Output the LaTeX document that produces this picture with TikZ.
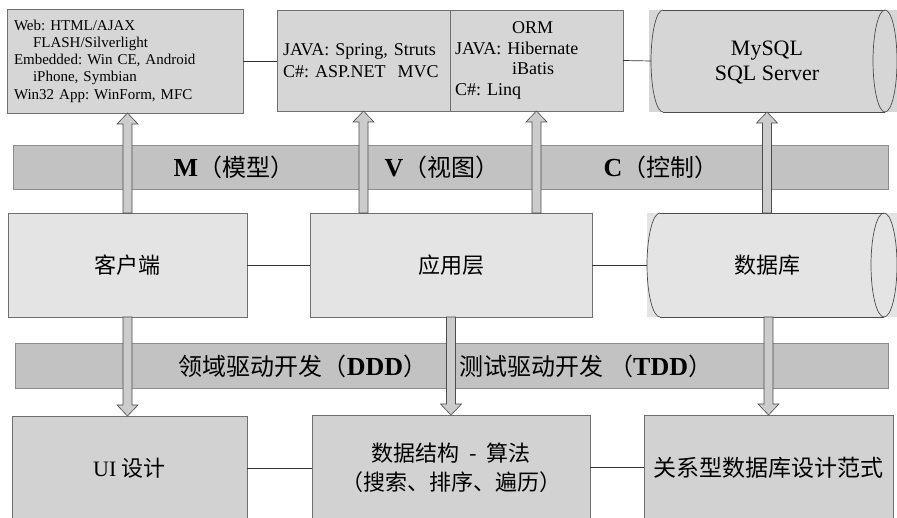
\documentclass[tikz,border=0pt]{standalone}
\usepackage{fontspec}
\setmainfont{Liberation Serif}
\newfontfamily\cjk{Noto Sans CJK SC}
\newcommand\zh[1]{{\cjk #1}}
\frenchspacing
\usetikzlibrary{calc}
\definecolor{topfill}{HTML}{D6D6D6}
\definecolor{bandfill}{HTML}{C2C2C2}
\definecolor{midfill}{HTML}{E4E4E4}
\definecolor{botfill}{HTML}{D2D2D2}
\definecolor{edge}{HTML}{707070}
\definecolor{arrfill}{HTML}{CCCCCC}
\tikzset{
  box/.style={draw=edge, line width=0.6pt, inner sep=0pt, outer sep=0pt, rectangle},
  topbox/.style={box, fill=topfill},
  midbox/.style={box, fill=midfill},
  botbox/.style={box, fill=botfill},
  band/.style={draw=edge!80, line width=0.6pt, fill=bandfill, inner sep=0pt, outer sep=0pt},
  cylfill/.style={fill=midfill, inner sep=0pt, outer sep=0pt},
  cylline/.style={draw=black!70, line width=0.7pt},
  link/.style={draw=black!80, line width=0.7pt},
  barrow/.style={draw=black!70, line width=0.6pt, fill=arrfill},
  lbl/.style={inner sep=0pt, font=\fontsize{22}{26}\selectfont},
  bandlbl/.style={inner sep=0pt, font=\fontsize{24}{28}\selectfont},
}
\newcommand\bandlatin[1]{{\fontsize{26}{28}\selectfont\bfseries #1}}
% #1 start, #2 tip, #3 head offset (canvas): -11pt up, 11pt down
\newcommand\blockarrow[3]{%
  \path[barrow] let \p1=#1, \p2=#2 in
    ({\x1-4.5pt},{\y1}) -- ({\x1-4.5pt},{\y2+(#3)}) -- ({\x1-10.5pt},{\y2+(#3)})
    -- ({\x1},{\y2}) -- ({\x1+10.5pt},{\y2+(#3)}) -- ({\x1+4.5pt},{\y2+(#3)})
    -- ({\x1+4.5pt},{\y1}) -- cycle;}
\begin{document}
\begin{tikzpicture}[x=1pt,y=-1pt]
\useasboundingbox (0,0) rectangle (897,518);
\clip (0,0) rectangle (897,518);
\fill[white] (0,0) rectangle (897,518);

% bands
\node[band, minimum width=875pt, minimum height=44pt] (mvc) at (450.5,167) {};
\node[band, minimum width=873pt, minimum height=45pt] (ddd) at (451.5,365.5) {};
\node[bandlbl] (mlab) at (234,167) {\bandlatin{M}\zh{（模型）}};
\node[bandlbl] (vlab) at (442,167) {\bandlatin{V}\zh{（视图）}};
\node[bandlbl] (clab) at (661,167) {\bandlatin{C}\zh{（控制）}};
\node[bandlbl] (dddlab) at (303,366) {\zh{领域驱动开发（}\bandlatin{DDD}\zh{）}};
\node[bandlbl] (tddlab) at (586,366) {\zh{测试驱动开发 （}\bandlatin{TDD}\zh{）}};

% top row
\node[topbox, minimum width=236pt, minimum height=104pt,
      text width=222pt, inner xsep=7pt, align=left,
      font=\fontsize{15}{17.3}\selectfont] (web) at (125,61)
  {Web: HTML/AJAX\\\hspace*{19pt}FLASH/Silverlight\\Embedded: Win CE, Android\\\hspace*{19pt}iPhone, Symbian\\Win32 App: WinForm, MFC};
\node[topbox, minimum width=173pt, minimum height=101pt,
      text width=161pt, inner xsep=6pt, align=left,
      font=\fontsize{18}{21.5}\selectfont] (spring) at (363.5,60.5)
  {JAVA: Spring, Struts\\C\#: ASP.NET\ \ MVC};
\node[topbox, minimum width=173pt, minimum height=101pt,
      text width=163pt, inner xsep=5pt, align=left,
      font=\fontsize{18}{20.5}\selectfont] (orm) at (536.5,60.5)
  {\hspace*{57pt}ORM\\JAVA: Hibernate\\\hspace*{57pt}iBatis\\C\#: Linq};
\node[cylfill, fill=topfill, minimum width=248pt, minimum height=102pt] (dbtop) at (773,61) {};
\draw[cylline] (663,10) -- (885,10) (663,112) -- (885,112);
\draw[cylline] (663,10) arc[start angle=270, end angle=90, x radius=12, y radius=51];
\draw[cylline] (885,61) ellipse[x radius=12, y radius=51];
\node[lbl, align=center, font=\fontsize{22}{25}\selectfont] (dbtoptext) at (767,63) {MySQL\\SQL Server};
\coordinate (dbtopL) at (651,61);

% middle row
\node[midbox, minimum width=239pt, minimum height=104pt, font=\cjk\fontsize{22}{26}\selectfont] (client) at (127.5,265) {客户端};
\node[midbox, minimum width=282pt, minimum height=104pt, font=\cjk\fontsize{22}{26}\selectfont] (app) at (451,265) {应用层};
\node[cylfill, minimum width=250pt, minimum height=104pt] (dbmid) at (772,265) {};
\draw[cylline] (660,213) -- (884,213) (660,317) -- (884,317);
\draw[cylline] (660,213) arc[start angle=270, end angle=90, x radius=13, y radius=52];
\draw[cylline] (884,265) ellipse[x radius=13, y radius=52];
\node[lbl, font=\cjk\fontsize{22}{26}\selectfont] (dbmidtext) at (767,265) {数据库};
\coordinate (dbmidL) at (647,265);

% bottom row
\node[botbox, minimum width=235pt, minimum height=104pt, font=\fontsize{22}{26}\selectfont] (ui) at (129.5,468) {UI \zh{设计}};
\node[botbox, minimum width=278pt, minimum height=105pt, align=center, font=\cjk\fontsize{22}{29}\selectfont] (ds) at (451,467.5) {数据结构 \ - \ 算法\\（搜索、排序、遍历）};
\node[botbox, minimum width=249pt, minimum height=105pt, font=\cjk\fontsize{23}{26}\selectfont] (rel) at (768.5,467.5) {关系型数据库设计范式};

% horizontal connectors
\draw[link] (web.east) -- (web.east -| spring.west);
\draw[link] (orm.east) -- (dbtopL);
\draw[link] (client.east) -- (app.west);
\draw[link] (app.east) -- (dbmidL);
\draw[link] (ui.east) -- (ui.east -| ds.west);
\draw[link] (ds.east) -- (rel.west);

% block arrows
\blockarrow{(client.north)}{(client.north |- web.south)}{-11pt}
\blockarrow{(app.north -| spring.south)}{(spring.south)}{-11pt}
\blockarrow{(app.north -| orm.south)}{(orm.south)}{-11pt}
\blockarrow{([xshift=-5pt]dbmid.north)}{([xshift=-5pt]dbmid.north |- dbtop.south)}{-11pt}
\blockarrow{(client.south)}{(client.south |- ui.north)}{11pt}
\blockarrow{(app.south)}{(app.south |- ds.north)}{11pt}
\blockarrow{(dbmid.south -| rel.north)}{(rel.north)}{11pt}
\end{tikzpicture}
\end{document}
